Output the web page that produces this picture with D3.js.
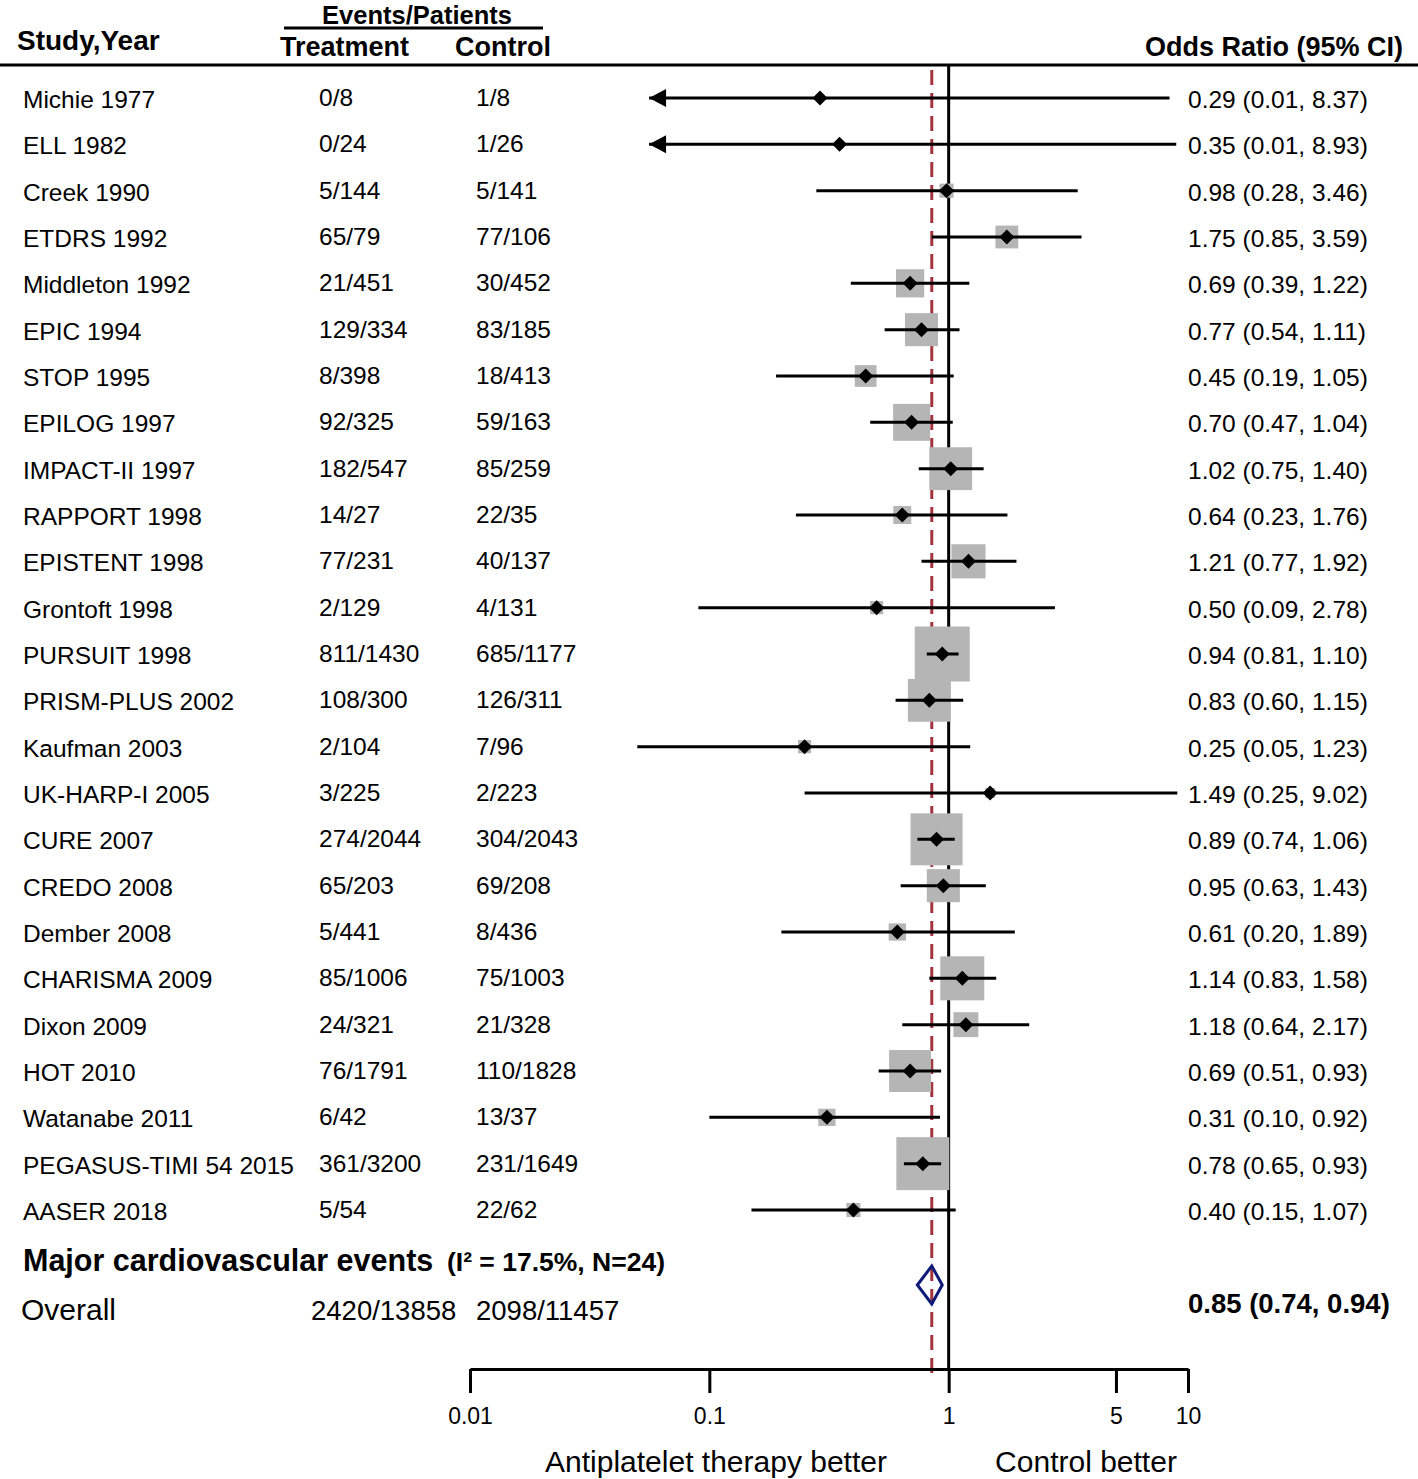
<!DOCTYPE html>
<html><head><meta charset="utf-8">
<script src="https://cdn.jsdelivr.net/npm/d3@7"></script>
<style>
body{margin:0;background:#fff}
svg{display:block}
text{font-family:"Liberation Sans",Arial,Helvetica,sans-serif;fill:#000}
</style>
</head><body>
<svg id="c" width="1418" height="1479"></svg>
<script>
// ---------------- DATA ----------------
const studies = ["Michie 1977","ELL 1982","Creek 1990","ETDRS 1992","Middleton 1992","EPIC 1994","STOP 1995","EPILOG 1997","IMPACT-II 1997","RAPPORT 1998","EPISTENT 1998","Grontoft 1998","PURSUIT 1998","PRISM-PLUS 2002","Kaufman 2003","UK-HARP-I 2005","CURE 2007","CREDO 2008","Dember 2008","CHARISMA 2009","Dixon 2009","HOT 2010","Watanabe 2011","PEGASUS-TIMI 54 2015","AASER 2018"];
const tEvents = [0,0,5,65,21,129,8,92,182,14,77,2,811,108,2,3,274,65,5,85,24,76,6,361,5];
const tTotal  = [8,24,144,79,451,334,398,325,547,27,231,129,1430,300,104,225,2044,203,441,1006,321,1791,42,3200,54];
const cEvents = [1,1,5,77,30,83,18,59,85,22,40,4,685,126,7,2,304,69,8,75,21,110,13,231,22];
const cTotal  = [8,26,141,106,452,185,413,163,259,35,137,131,1177,311,96,223,2043,208,436,1003,328,1828,37,1649,62];
const orVals  = [0.29,0.35,0.98,1.75,0.69,0.77,0.45,0.70,1.02,0.64,1.21,0.50,0.94,0.83,0.25,1.49,0.89,0.95,0.61,1.14,1.18,0.69,0.31,0.78,0.40];
const loVals  = [0.01,0.01,0.28,0.85,0.39,0.54,0.19,0.47,0.75,0.23,0.77,0.09,0.81,0.60,0.05,0.25,0.74,0.63,0.20,0.83,0.64,0.51,0.10,0.65,0.15];
const hiVals  = [8.37,8.93,3.46,3.59,1.22,1.11,1.05,1.04,1.40,1.76,1.92,2.78,1.10,1.15,1.23,9.02,1.06,1.43,1.89,1.58,2.17,0.93,0.92,0.93,1.07];
const weights = [0.1,0.1,0.8,2.1,3.2,4.4,1.9,5.5,7.4,1.3,4.7,0.7,12.2,7.4,0.7,0.4,10.9,4.4,1.2,7.8,2.5,7.1,1.2,11.3,0.8];

const overall = {or:0.85, lo:0.74, hi:0.94, tEvents:2420, tTotal:13858, cEvents:2098, cTotal:11457};
const overallTitle = "Major cardiovascular events";
const overallStats = "(I\u00B2 = 17.5%, N=24)";

const tickVals   = [0.01, 0.1, 1, 5, 10];
const tickLabels = ["0.01","0.1","1","5","10"];
const arrowBelow = 0.02;   // lower limits below this are drawn as arrows
const arrowTo = 0.056;     // where the arrow tip sits

// ---------------- LAYOUT ----------------
const svg = d3.select("#c");
const W = 1418;
const x = d3.scaleLog().domain([0.01, 10]).range([470, 1188]);
const y = d3.scalePoint().domain(studies).range([98, 1210]);
const side = d3.scaleSqrt().domain([0, 12.2]).range([0, 55]);
const axisY = 1369;
const fmt = d3.format(".2f");
const gray = "#b5b5b5";

// Header
const hdr = svg.append("g").attr("font-weight","bold").style("font-size","27px");
hdr.append("text").attr("x",17).attr("y",50).style("font-size","28px").text("Study,Year");
hdr.append("text").attr("x",417).attr("y",24).attr("text-anchor","middle").style("font-size","25.5px").text("Events/Patients");
hdr.append("text").attr("x",280).attr("y",56).text("Treatment");
hdr.append("text").attr("x",455).attr("y",56).text("Control");
hdr.append("text").attr("x",1403).attr("y",56).attr("text-anchor","end").text("Odds Ratio (95% CI)");
svg.append("line").attr("x1",284).attr("x2",543).attr("y1",28).attr("y2",28).attr("stroke","#000").attr("stroke-width",3);
svg.append("line").attr("x1",0).attr("x2",W).attr("y1",65).attr("y2",65).attr("stroke","#000").attr("stroke-width",3);

// Reference lines
svg.append("line").attr("x1",x(1)).attr("x2",x(1)).attr("y1",65).attr("y2",axisY)
  .attr("stroke","#000").attr("stroke-width",3);
svg.append("line").attr("x1",x(overall.or)).attr("x2",x(overall.or)).attr("y1",70).attr("y2",1378)
  .attr("stroke","#a3343f").attr("stroke-width",3).attr("stroke-dasharray","15,8");

const rows = studies.map((s,i)=>({s, i, te:tEvents[i], tn:tTotal[i], ce:cEvents[i], cn:cTotal[i],
  or:orVals[i], lo:loVals[i], hi:hiVals[i], w:weights[i]}));
const loDraw = d => d.lo < arrowBelow ? arrowTo : d.lo;

// Squares
svg.append("g").selectAll("rect").data(rows).join("rect")
  .attr("x", d=>x(d.or)-side(d.w)/2).attr("y", d=>y(d.s)-side(d.w)/2)
  .attr("width", d=>side(d.w)).attr("height", d=>side(d.w)).attr("fill", gray);

// CI lines
svg.append("g").selectAll("line").data(rows).join("line")
  .attr("x1", d=>x(loDraw(d))).attr("x2", d=>x(d.hi))
  .attr("y1", d=>y(d.s)).attr("y2", d=>y(d.s))
  .attr("stroke","#000").attr("stroke-width",3);

// Arrows for clipped
svg.append("g").selectAll("path").data(rows.filter(d=>d.lo < arrowBelow)).join("path")
  .attr("d", d=>{const xt=x(arrowTo), yy=y(d.s); return `M${xt},${yy}L${xt+17},${yy-9}L${xt+17},${yy+9}Z`;})
  .attr("fill","#000");

// Point diamonds
svg.append("g").selectAll("path").data(rows).join("path")
  .attr("d", d=>{const cx=x(d.or), cy=y(d.s), r=7.5; return `M${cx-r},${cy}L${cx},${cy-r}L${cx+r},${cy}L${cx},${cy+r}Z`;})
  .attr("fill","#000");

// Row texts
const tg = svg.append("g").style("font-size","24.5px");
tg.selectAll("text.name").data(rows).join("text").attr("class","name")
  .attr("x",23).attr("y",d=>y(d.s)+10).text(d=>d.s);
tg.selectAll("text.te").data(rows).join("text").attr("class","te")
  .attr("x",319).attr("y",d=>y(d.s)+8).text(d=>`${d.te}/${d.tn}`);
tg.selectAll("text.ce").data(rows).join("text").attr("class","ce")
  .attr("x",476).attr("y",d=>y(d.s)+8).text(d=>`${d.ce}/${d.cn}`);
tg.selectAll("text.or").data(rows).join("text").attr("class","or")
  .attr("x",1188).attr("y",d=>y(d.s)+10).text(d=>`${fmt(d.or)} (${fmt(d.lo)}, ${fmt(d.hi)})`);

// Overall
svg.append("text").attr("x",23).attr("y",1271).attr("font-weight","bold").style("font-size","30.5px").text(overallTitle);
svg.append("text").attr("x",447).attr("y",1271).attr("font-weight","bold").style("font-size","26.5px").text(overallStats);
svg.append("text").attr("x",21).attr("y",1320).style("font-size","30px").text("Overall");
svg.append("text").attr("x",311).attr("y",1320).style("font-size","27.5px").text(`${overall.tEvents}/${overall.tTotal}`);
svg.append("text").attr("x",476).attr("y",1320).style("font-size","27.5px").text(`${overall.cEvents}/${overall.cTotal}`);
svg.append("text").attr("x",1188).attr("y",1313).attr("font-weight","bold").style("font-size","27.5px")
  .text(`${fmt(overall.or)} (${fmt(overall.lo)}, ${fmt(overall.hi)})`);
const yd = 1285;
svg.append("path")
  .attr("d", `M${x(overall.lo)},${yd}L${x(overall.or)},${yd-19}L${x(overall.hi)},${yd}L${x(overall.or)},${yd+19}Z`)
  .attr("fill","none").attr("stroke","#0d1a7a").attr("stroke-width",3);

// Axis
const ax = svg.append("g").attr("transform",`translate(0,${axisY})`)
  .call(d3.axisBottom(x).tickValues(tickVals).tickFormat((d,i)=>tickLabels[i]).tickSize(24).tickSizeOuter(0).tickPadding(15));
ax.select(".domain").attr("stroke","#000").attr("stroke-width",3);
ax.selectAll(".tick line").attr("stroke","#000").attr("stroke-width",3);
ax.selectAll(".tick text").style("font-size","23px").attr("font-family","Liberation Sans, Arial, sans-serif").attr("fill","#000");

svg.append("text").attr("x",716).attr("y",1472).attr("text-anchor","middle").style("font-size","30px").text("Antiplatelet therapy better");
svg.append("text").attr("x",1086).attr("y",1472).attr("text-anchor","middle").style("font-size","30px").text("Control better");
</script>
</body></html>
